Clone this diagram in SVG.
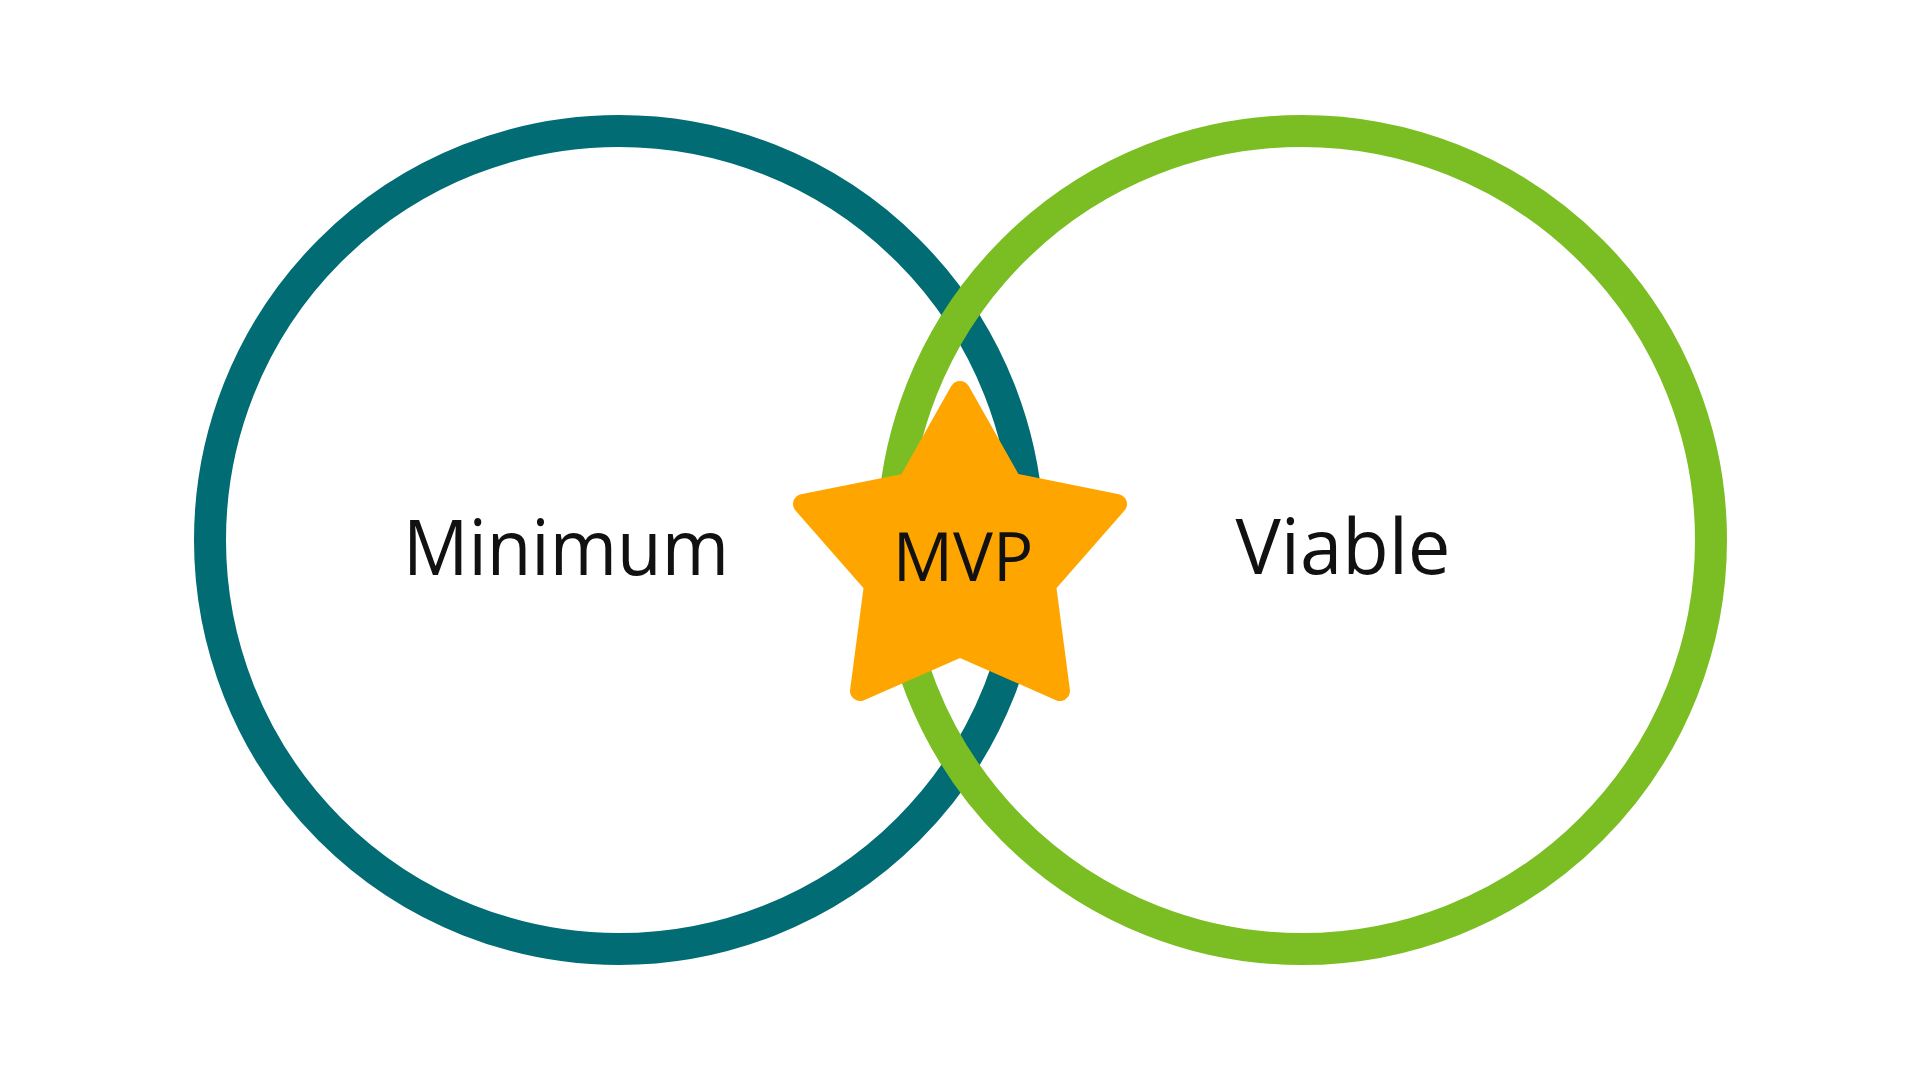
<svg xmlns="http://www.w3.org/2000/svg" width="1920" height="1080" viewBox="0 0 1920 1080">
<style>
.ring{fill:none;stroke-width:32}
.lbl{font-family:"Open Sans","Liberation Sans",sans-serif;fill:#111;text-anchor:middle}
</style>
<rect width="1920" height="1080" fill="#ffffff"/>
<g id="minimum">
<circle class="ring" cx="619" cy="540" r="409" stroke="#016C73"/>
<text class="lbl" x="566" y="575" font-size="76" textLength="326" lengthAdjust="spacingAndGlyphs">Minimum</text>
</g>
<g id="viable">
<circle class="ring" cx="1302" cy="540" r="409" stroke="#7BBE23"/>
<text class="lbl" x="1343" y="574" font-size="76" textLength="215" lengthAdjust="spacingAndGlyphs">Viable</text>
</g>
<g id="mvp">
<polygon points="960,391 1012,483 1117,504 1046,585 1060,691 960,647 860,691 874,585 803,504 908,483" fill="#FFA500" stroke="#FFA500" stroke-width="20" stroke-linejoin="round"/>
<text class="lbl" x="963" y="581" font-size="67">MVP</text>
</g>
<g id="connectors"></g>
</svg>
